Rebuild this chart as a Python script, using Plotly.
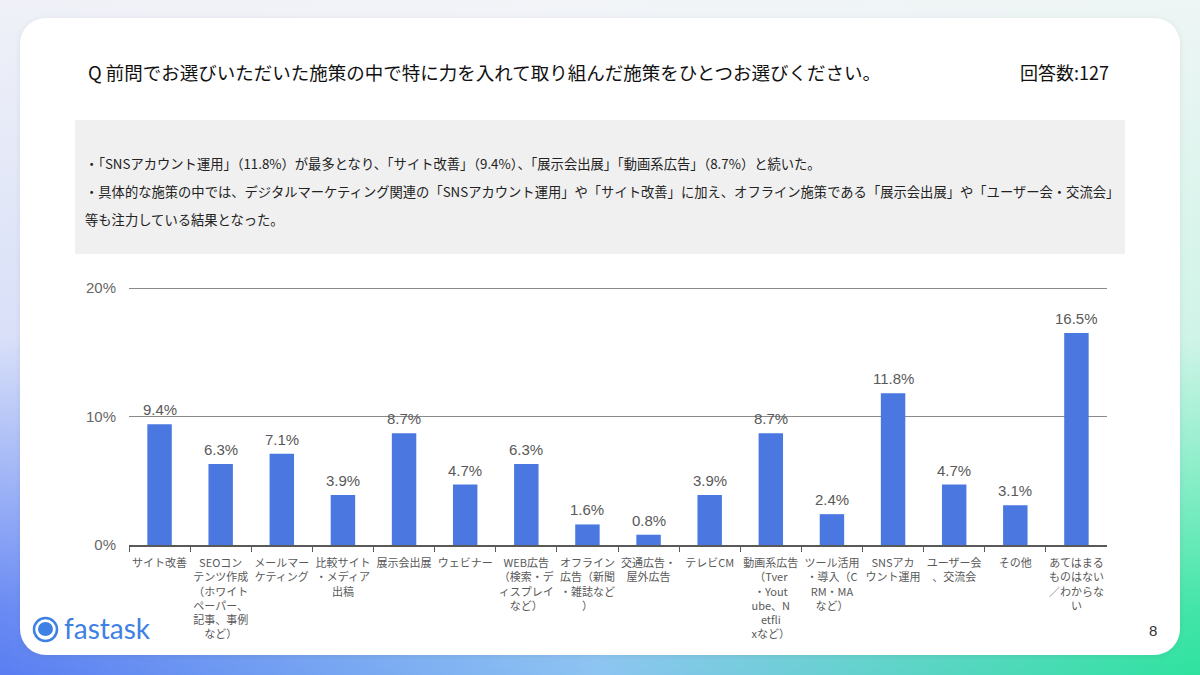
import base64
import plotly.graph_objects as go

W, H = 1200, 675

categories = [
    "サイト改善",
    "SEOコン<br>テンツ作成<br>（ホワイト<br>ペーパー、<br>記事、事例<br>など）",
    "メールマー<br>ケティング",
    "比較サイト<br>・メディア<br>出稿",
    "展示会出展",
    "ウェビナー",
    "WEB広告<br>（検索・デ<br>ィスプレイ<br>など）",
    "オフライン<br>広告（新聞<br>・雑誌など<br>）",
    "交通広告・<br>屋外広告",
    "テレビCM",
    "動画系広告<br>（Tver<br>・Yout<br>ube、N<br>etfli<br>xなど）",
    "ツール活用<br>・導入（C<br>RM・MA<br>など）",
    "SNSアカ<br>ウント運用",
    "ユーザー会<br>、交流会",
    "その他",
    "あてはまる<br>ものはない<br>／わからな<br>い",
]
values = [9.4, 6.3, 7.1, 3.9, 8.7, 4.7, 6.3, 1.6, 0.8, 3.9, 8.7, 2.4, 11.8, 4.7, 3.1, 16.5]
y_ticks = [0, 10, 20]
y_ticktext = ["0%", "10%", "20%"]

title_text = "Q 前問でお選びいただいた施策の中で特に力を入れて取り組んだ施策をひとつお選びください。"
count_text = "回答数:127"
summary_lines = [
    "・「SNSアカウント運用」（11.8%）が最多となり、「サイト改善」（9.4%）、「展示会出展」「動画系広告」（8.7%）と続いた。",
    "・具体的な施策の中では、デジタルマーケティング関連の「SNSアカウント運用」や「サイト改善」に加え、オフライン施策である「展示会出展」や「ユーザー会・交流会」",
    "等も注力している結果となった。",
]

FONT = "Noto Sans CJK JP, Noto Sans, sans-serif"
NUMFONT = "Liberation Sans, Arial, sans-serif"

Y0_PX, Y20_PX = 545, 288
PX_PER_UNIT = (Y0_PX - Y20_PX) / 20.0
Y_TOP = 20.2


def px(x):
    return x / W


def py(y):
    return 1 - y / H


svg = f'''<svg xmlns="http://www.w3.org/2000/svg" width="{W}" height="{H}" viewBox="0 0 {W} {H}">
<defs>
<linearGradient id="h" x1="0" y1="0" x2="1" y2="0">
<stop offset="0" stop-color="#5a7ef2"/>
<stop offset="0.5" stop-color="#8cc4f2"/>
<stop offset="1" stop-color="#2ee39e"/>
</linearGradient>
<linearGradient id="v" x1="0" y1="0" x2="0" y2="1">
<stop offset="0" stop-color="#f6f6f8" stop-opacity="0.96"/>
<stop offset="0.5" stop-color="#f8f8fa" stop-opacity="0.8"/>
<stop offset="0.9" stop-color="#ffffff" stop-opacity="0.1"/>
<stop offset="1" stop-color="#ffffff" stop-opacity="0"/>
</linearGradient>
<filter id="s" x="-5%" y="-5%" width="110%" height="110%">
<feDropShadow dx="0" dy="1" stdDeviation="3" flood-color="#000000" flood-opacity="0.07"/>
</filter>
</defs>
<rect width="{W}" height="{H}" fill="url(#h)"/>
<rect width="{W}" height="{H}" fill="url(#v)"/>
<rect x="20" y="18" width="1160" height="637" rx="26" ry="26" fill="#ffffff" filter="url(#s)"/>
<rect x="75" y="120" width="1050" height="134" fill="#f0f0f0"/>
</svg>'''
svg_uri = "data:image/svg+xml;base64," + base64.b64encode(svg.encode("utf-8")).decode("ascii")

fig = go.Figure()
fig.add_trace(go.Bar(
    x=categories,
    y=values,
    marker=dict(color="#4A78E0", line=dict(width=0)),
    cliponaxis=False,
    hoverinfo="skip",
))


def note(x, y, text, size, color, xanchor="left", family=FONT):
    return dict(x=px(x), y=py(y), xref="paper", yref="paper", text=text, showarrow=False,
                xanchor=xanchor, yanchor="middle",
                font=dict(family=family, size=size, color=color))


annotations = [
    note(86, 72, title_text, 18.5, "#111111"),
    note(1111, 72, count_text, 18, "#111111", xanchor="right"),
    note(1153, 630, "8", 15, "#333333", xanchor="center", family=NUMFONT),
    note(62, 628, "fastask", 28, "#3F80E4", family="Lato, Open Sans, sans-serif"),
]
for i, line in enumerate(summary_lines):
    annotations.append(note(83, 163 + 28 * i, line, 13.3, "#222222"))

# value labels above bars
for c, v in zip(categories, values):
    annotations.append(dict(x=c, y=v, xref="x", yref="y", text=f"{v:.1f}%", showarrow=False,
                            xanchor="center", yanchor="bottom", yshift=4,
                            font=dict(family=NUMFONT, size=15, color="#595959")))

shapes = [
    dict(type="circle", xref="paper", yref="paper",
         x0=px(34), x1=px(57), y0=py(641), y1=py(618),
         line=dict(color="#3F80E4", width=2.5), fillcolor="rgba(0,0,0,0)"),
    dict(type="circle", xref="paper", yref="paper",
         x0=px(38), x1=px(53), y0=py(636), y1=py(622),
         line=dict(width=0), fillcolor="#3F80E4"),
]

top_px = Y0_PX - Y_TOP * PX_PER_UNIT

fig.update_layout(
    width=W, height=H,
    autosize=False,
    margin=dict(l=0, r=0, t=0, b=0, pad=0, autoexpand=False),
    paper_bgcolor="#ffffff",
    plot_bgcolor="rgba(0,0,0,0)",
    showlegend=False,
    bargap=0.6,
    images=[dict(source=svg_uri, xref="paper", yref="paper", x=0, y=1, sizex=1, sizey=1,
                 xanchor="left", yanchor="top", sizing="stretch", layer="below")],
    annotations=annotations,
    shapes=shapes,
    xaxis=dict(
        domain=[px(129), px(1107)],
        automargin=False,
        showline=True, linecolor="#595959", linewidth=1.5,
        ticks="outside", tickson="boundaries", ticklen=5, tickcolor="#595959", tickwidth=1.3,
        tickfont=dict(family=FONT, size=11, color="#595959"),
        ticklabelstandoff=7,
        tickangle=0, showgrid=False, fixedrange=True,
    ),
    yaxis=dict(
        domain=[py(Y0_PX), py(top_px)],
        automargin=False,
        range=[0, Y_TOP],
        tickvals=y_ticks, ticktext=y_ticktext,
        showgrid=True, gridcolor="#8a8a8a", gridwidth=1.3,
        zeroline=False, showline=False, ticks="",
        tickfont=dict(family=NUMFONT, size=15, color="#666666"),
        ticklabelstandoff=12, fixedrange=True,
    ),
)

fig.write_html("out.html")
